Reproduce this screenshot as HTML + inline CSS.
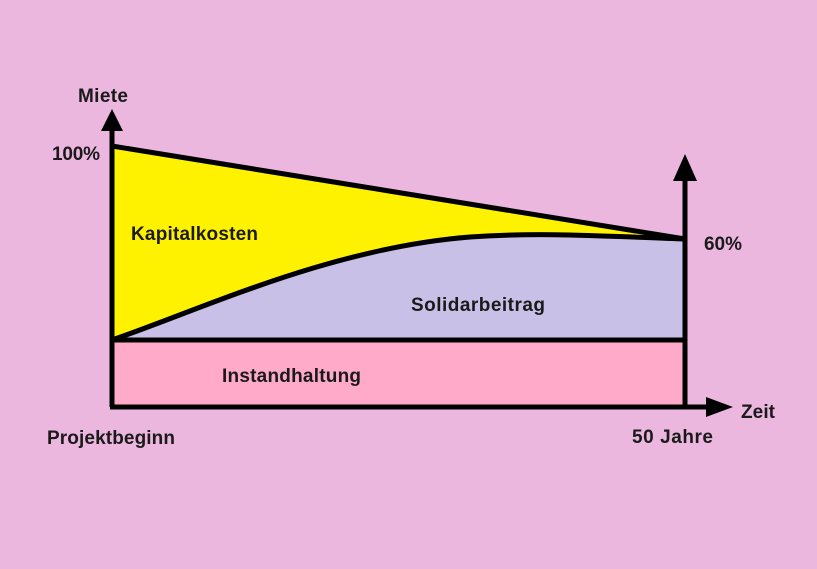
<!DOCTYPE html>
<html><head><style>
html,body{margin:0;padding:0}
body{width:817px;height:564px;background:#ebb7df;overflow:hidden}
svg text{font-family:"Liberation Sans Narrow","Liberation Sans",sans-serif;font-size:19px;font-weight:bold;fill:#1a1a1a}
</style></head><body>
<svg width="817" height="564" viewBox="0 0 817 564">
<rect x="112" y="340" width="573" height="67" fill="#ffaac8"/>
<path d="M112 340 L685 340 L685 239 C600 236 540 232 470 237 C330 248 200 310 112 340 Z" fill="#c8c0e6"/>
<path d="M112 146 L685 239 C600 236 540 232 470 237 C330 248 200 310 112 340 Z" fill="#fff200"/>
<g stroke="#000" stroke-width="5" fill="none">
<line x1="112" y1="146" x2="685" y2="239"/>
<path d="M112 340 C200 310 330 248 470 237 C540 232 600 236 685 239"/>
<line x1="110" y1="340" x2="685" y2="340"/>
<line x1="112" y1="128" x2="112" y2="407"/>
<line x1="685" y1="178" x2="685" y2="407"/>
<line x1="110" y1="407" x2="710" y2="407"/>
</g>
<polygon points="112,109 101,131 123,131" fill="#000"/>
<polygon points="685,154 673,181 697,181" fill="#000"/>
<polygon points="733,407 706,397 706,417" fill="#000"/>
<text x="78" y="102" textLength="50">Miete</text>
<text x="52" y="160" textLength="48">100%</text>
<text x="131" y="240" textLength="127">Kapitalkosten</text>
<text x="704" y="250" textLength="38">60%</text>
<text x="411" y="311" textLength="134">Solidarbeitrag</text>
<text x="222" y="382" textLength="139">Instandhaltung</text>
<text x="741" y="418" textLength="34">Zeit</text>
<text x="47" y="444" textLength="128">Projektbeginn</text>
<text x="632" y="443" textLength="81">50 Jahre</text>
</svg>
</body></html>
